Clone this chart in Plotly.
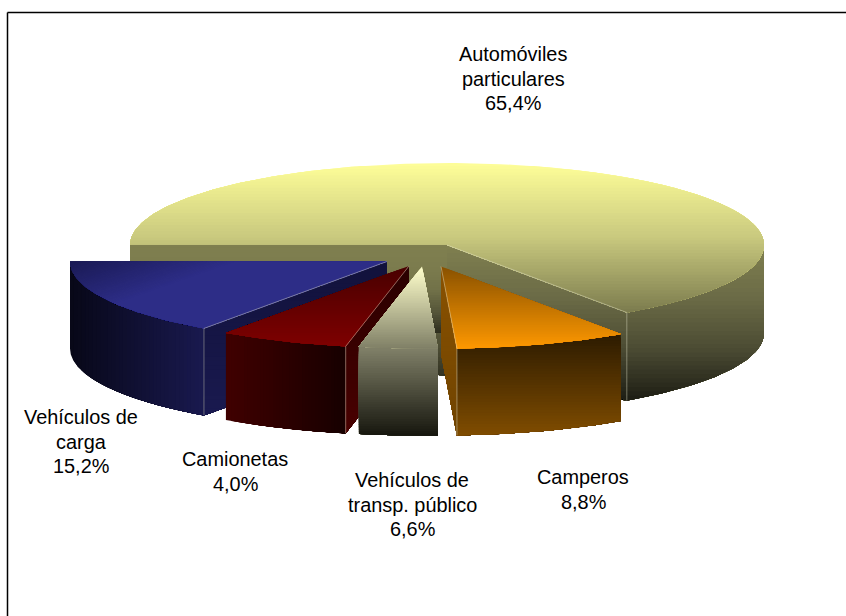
import numpy as np
import plotly.graph_objects as go

# Slices clockwise from the west edge of the big slice.
slice_names = ["Automóviles particulares", "Camperos", "Vehículos de transp. público", "Camionetas", "Vehículos de carga"]
slice_shares = [65.4, 8.8, 4.0, 6.6, 15.2]

# Label lines as printed in the picture
label_lines = [
    ["Automóviles", "particulares", "65,4%"],
    ["Camperos", "8,8%"],
    ["Vehículos de", "transp. público", "6,6%"],
    ["Camionetas", "4,0%"],
    ["Vehículos de", "carga", "15,2%"],
]

# Styling and placement
W, H = 846, 616
CX, CY, RX, RY = 447, 245, 317, 82
START_ANGLE = 270
LINE_STEP = 24.5
label_x = [513, 583, 412, 235, 81]
label_y = [54, 477, 480, 459, 417]
slice_offset = [(0, 0), (-6, 21.5), (-25, 21.5), (-38, 21), (-60, 16.5)]
slice_depth = [88, 87, 87, 87, 87]
draw_order = [0, 4, 3, 2, 1]

# (direction, from, to, colour stops) for each face of each slice
top_style = [
    ((0, 1), 163, 312, ["#FFFF99", "#C9C97F", "#7C7C4E"]),
    ((0, 1), 267, 349, ["#8A5200", "#FF9900"]),
    ((0, 1), 267, 349, ["#FFFFCC", "#7F7F66"]),
    ((0, 1), 267, 348, ["#4A0000", "#800000"]),
    ((0.35, 1), 280, 345, ["#191950", "#2E2E88"]),
]
wall_style = [
    ((0, 1), 245, 400, ["#808050", "#6C6C47", "#4C4C34", "#1E1E14"]),
    ((0, 1), 335, 435, ["#2E1C00", "#804D00"]),
    ((0, 1), 349, 436, ["#808068", "#16160E"]),
    ((1, 0), 228, 344, ["#400000", "#180000"]),
    ((1, 0), 70, 206, ["#080818", "#1A1A50"]),
]
start_face_style = [
    ((0, 1), 245, 335, ["#808050", "#7C7C4E", "#727249", "#555539", "#2A2A1C"]),
    None,
    None,
    ((0, 1), 267, 435, ["#2A0000", "#4A0000"]),
    ((0, 1), 262, 417, ["#12123C", "#1A1A50"]),
]
end_face_style = [
    ((0, 1), 245, 400, ["#808050", "#6C6C47", "#4C4C34", "#1E1E14"]),
    ((0, 1), 267, 435, ["#8A5200", "#704400"]),
    None,
    None,
    None,
]

fig = go.Figure()


def hex_rgb(value):
    return np.array([int(value[i:i + 2], 16) for i in (1, 3, 5)], dtype=float)


def stop_color(stops, t):
    pos = t * (len(stops) - 1)
    i = min(int(pos), len(stops) - 2)
    mix = hex_rgb(stops[i]) * (1 - (pos - i)) + hex_rgb(stops[i + 1]) * (pos - i)
    return "rgb(%d,%d,%d)" % tuple(mix)


def clip_polygon(points, direction, limit):
    # keep the side of the polygon past the limit along direction
    kept = []
    for a, b in zip(points, points[1:] + points[:1]):
        pa = a[0] * direction[0] + a[1] * direction[1] - limit
        pb = b[0] * direction[0] + b[1] * direction[1] - limit
        if pa >= 0:
            kept.append(a)
        if pa * pb < 0:
            f = pa / (pa - pb)
            kept.append((a[0] + (b[0] - a[0]) * f, a[1] + (b[1] - a[1]) * f))
    return kept


def add_polygon(points, color):
    fig.add_trace(
        go.Scatter(
            x=[p[0] for p in points] + [points[0][0]],
            y=[p[1] for p in points] + [points[0][1]],
            mode="lines",
            fill="toself",
            fillcolor=color,
            line=dict(color=color, width=0),
            hoverinfo="skip",
            showlegend=False,
        )
    )


def add_gradient(points, style, steps=36):
    direction, low, high, stops = style
    for i in range(steps):
        part = points if i == 0 else clip_polygon(points, direction, low + (high - low) * i / steps)
        if len(part) >= 3:
            add_polygon(part, stop_color(stops, (i + 0.5) / steps))


def add_edge(x, y, color="rgba(225,225,200,0.45)"):
    fig.add_trace(
        go.Scatter(x=x, y=y, mode="lines", line=dict(color=color, width=1), hoverinfo="skip", showlegend=False)
    )


# slice angles follow the shares, cumulative from the start angle
edges = START_ANGLE + np.concatenate([[0], np.cumsum(slice_shares)]) * 3.6

for i in draw_order:
    start, end = edges[i], edges[i + 1]
    share = slice_shares[i]
    depth = slice_depth[i]
    ox, oy = slice_offset[i]
    apex = (CX + ox, CY + oy)

    def rim(deg):
        rad = np.radians(deg)
        return (apex[0] + RX * np.sin(rad), apex[1] - RY * np.cos(rad))

    def drop(p):
        return (p[0], p[1] + depth)

    arc = [rim(a) for a in np.linspace(start, end, max(6, int(share * 3.6)))]

    # outer wall: only the part of the rim that faces the viewer
    front = [a for a in np.linspace(start, end, 240) % 360 if 90 <= a <= 270]
    if front:
        rim_front = [rim(a) for a in sorted(front)]
        add_gradient(rim_front + [drop(p) for p in reversed(rim_front)], wall_style[i])

    # cut faces
    if start_face_style[i]:
        p = rim(start)
        add_gradient([apex, p, drop(p), drop(apex)], start_face_style[i])
    if end_face_style[i]:
        p = rim(end)
        add_gradient([apex, p, drop(p), drop(apex)], end_face_style[i])

    add_gradient([apex] + arc, top_style[i], steps=48)

    # thin light corners where a cut face meets the outer wall
    for style, deg in ((start_face_style[i], start), (end_face_style[i], end)):
        p = rim(deg)
        if style and 90 < deg % 360 < 270:
            add_edge([p[0], p[0]], [p[1], p[1] + depth])
            add_edge([apex[0], p[0]], [apex[1], p[1]])

for x, y, lines in zip(label_x, label_y, label_lines):
    for n, line in enumerate(lines):
        fig.add_annotation(
            x=x, y=y + n * LINE_STEP, text=line, showarrow=False, align="center",
            xanchor="center", yanchor="middle",
            font=dict(family="Liberation Sans, Arial, sans-serif", size=19.9, color="#000000"),
        )

# chart frame, open towards the right and bottom of the page
fig.add_shape(type="line", x0=7.5, y0=12.5, x1=W, y1=12.5, line=dict(color="#000000", width=1.5))
fig.add_shape(type="line", x0=7.5, y0=12.5, x1=7.5, y1=H, line=dict(color="#000000", width=1.5))

fig.update_layout(
    width=W,
    height=H,
    margin=dict(l=0, r=0, t=0, b=0),
    paper_bgcolor="#FFFFFF",
    plot_bgcolor="#FFFFFF",
    xaxis=dict(range=[0, W], visible=False, fixedrange=True),
    yaxis=dict(range=[H, 0], visible=False, fixedrange=True),
)
fig.write_html(
    "out.html",
    config={"displayModeBar": False},
    post_script="document.body.style.margin='0';document.documentElement.style.overflow='hidden';",
)
